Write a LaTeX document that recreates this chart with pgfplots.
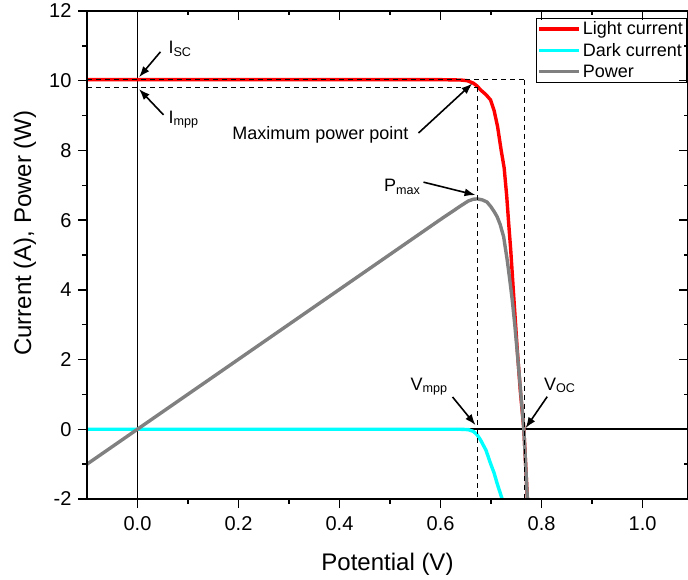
\documentclass[border=0pt]{standalone}
\usepackage{fontspec}
\setmainfont{Liberation Sans}
\usepackage{pgfplots}
\pgfplotsset{compat=1.18}
\usetikzlibrary{arrows.meta}
\definecolor{pgray}{RGB}{128,128,128}
\definecolor{pcyan}{RGB}{0,255,255}
\definecolor{pred}{RGB}{255,0,0}
\begin{document}
\begin{tikzpicture}[font=\fontsize{18pt}{21pt}\selectfont]
\begin{axis}[
  scale only axis, width=601pt, height=488pt,
  xmin=-0.1, xmax=1.09, ymin=-2, ymax=12,
  xtick={0,0.2,0.4,0.6,0.8,1.0},
  ytick={-2,0,2,4,6,8,10,12},
  minor x tick num=1, minor y tick num=1,
  tick align=outside,
  xtick pos=left, ytick pos=left,
  major tick length=9pt, minor tick length=4.5pt,
  tick style={black, line width=1.5pt},
  axis line style={line width=1.6pt},
  ticklabel style={font=\fontsize{20pt}{24pt}\selectfont},
  /pgf/number format/assume math mode=true,
  xticklabel style={yshift=-5pt, /pgf/number format/.cd, fixed, fixed zerofill, precision=1},
  yticklabel style={xshift=-3pt},
  xlabel={Potential (V)},
  ylabel={Current (A), Power (W)},
  label style={font=\fontsize{24pt}{28pt}\selectfont},
  xlabel style={at={(rel axis cs:0.5,-0.1455)}, anchor=base},
  ylabel style={at={(rel axis cs:-0.093,0.545)}, anchor=base},
  legend style={at={(0.998,0.986)}, anchor=north east, draw=black, line width=0.8pt,
    font=\fontsize{18pt}{20pt}\selectfont, inner sep=1.5pt, row sep=3pt},
  legend cell align=left,
  legend image code/.code={\draw[#1] (0pt,0pt) -- (40pt,0pt);},
]
% zero lines
\draw[black, line width=1.8pt] (axis cs:0,-2) -- (axis cs:0,12);
\draw[black, line width=1.8pt] (axis cs:-0.1,0) -- (axis cs:1.09,0);

\addplot[pred, line width=3.4pt] coordinates {
(-0.1,10.03) (0.6,10.03) (0.64,10.02) (0.653,10.0) (0.665,9.93) (0.673,9.84)
(0.679,9.74) (0.69,9.6) (0.699,9.45) (0.706,9.15) (0.713,8.68) (0.720,8.01)
(0.726,7.5) (0.731,6.7) (0.735,5.9) (0.739,5.14) (0.745,3.8) (0.752,2.27) (0.758,1.1)
(0.765,0) (0.772,-2)};
\addlegendentry{Light current}

\addplot[pcyan, line width=3.4pt] coordinates {
(-0.1,0) (0.64,0) (0.655,-0.01) (0.665,-0.06) (0.672,-0.15) (0.679,-0.3)
(0.69,-0.6) (0.699,-0.98) (0.706,-1.25) (0.712,-1.55) (0.722,-2.0)};
\addlegendentry{Dark current}

\addplot[pgray, line width=3.4pt] coordinates {
(-0.1,-1.0) (0.6,6.02) (0.64,6.41) (0.655,6.55) (0.665,6.6) (0.673,6.61)
(0.683,6.58) (0.692,6.52) (0.70,6.38) (0.706,6.25) (0.712,6.1) (0.718,5.88)
(0.725,5.52) (0.732,4.86) (0.737,4.3) (0.742,3.71) (0.747,3.0) (0.752,2.2)
(0.758,1.2) (0.765,0) (0.772,-2)};
\addlegendentry{Power}

% dashed guide lines
\draw[black, line width=0.9pt, dash pattern=on 5pt off 4pt] (axis cs:-0.1,10.03) -- (axis cs:0.766,10.03);
\draw[black, line width=0.9pt, dash pattern=on 5pt off 4pt] (axis cs:-0.1,9.81) -- (axis cs:0.6726,9.81);
\draw[black, line width=0.9pt, dash pattern=on 5pt off 4pt] (axis cs:0.6726,9.81) -- (axis cs:0.6726,-2);
\draw[black, line width=0.9pt, dash pattern=on 5pt off 4pt] (axis cs:0.766,10.03) -- (axis cs:0.766,-2);

% annotations
\tikzset{ann/.style={-{Latex[length=11pt,width=8pt]}, line width=1.6pt, black}}
\draw[ann] (axis cs:0.0455,10.83) -- (axis cs:0.003,10.1);
\node[anchor=base west, inner sep=0pt] at (axis cs:0.061,10.79) {I\textsubscript{SC}};
\draw[ann] (axis cs:0.0515,9.02) -- (axis cs:0.003,9.76);
\node[anchor=base west, inner sep=0pt] at (axis cs:0.061,8.78) {I\textsubscript{mpp}};
\node[anchor=base west, inner sep=0pt] at (axis cs:0.1875,8.30) {Maximum power point};
\draw[ann] (axis cs:0.5564,8.50) -- (axis cs:0.6628,9.92);
\node[anchor=base west, inner sep=0pt] at (axis cs:0.4877,6.82) {P\textsubscript{max}};
\draw[ann] (axis cs:0.5663,7.09) -- (axis cs:0.6693,6.72);
\node[anchor=base west, inner sep=0pt] at (axis cs:0.5406,1.127) {V\textsubscript{mpp}};
\draw[ann] (axis cs:0.6238,0.927) -- (axis cs:0.6693,0.12);
\node[anchor=base west, inner sep=0pt] at (axis cs:0.8046,1.127) {V\textsubscript{OC}};
\draw[ann] (axis cs:0.8112,0.935) -- (axis cs:0.7683,0.03);
\end{axis}
\begin{axis}[
  scale only axis, width=601pt, height=488pt,
  xmin=-0.1, xmax=1.09, ymin=-2, ymax=12,
  xtick={0,0.2,0.4,0.6,0.8,1.0},
  ytick={-2,0,2,4,6,8,10,12},
  minor x tick num=1, minor y tick num=1,
  tick align=inside,
  xtick pos=right, ytick pos=right,
  major tick length=9pt, minor tick length=4.5pt,
  tick style={black, line width=1.5pt},
  axis line style={line width=1.6pt},
  xticklabels={}, yticklabels={},
]
\end{axis}
\pgfresetboundingbox
\path[use as bounding box] (-87pt,-80pt) rectangle (601pt,499pt);
\end{tikzpicture}
\end{document}
